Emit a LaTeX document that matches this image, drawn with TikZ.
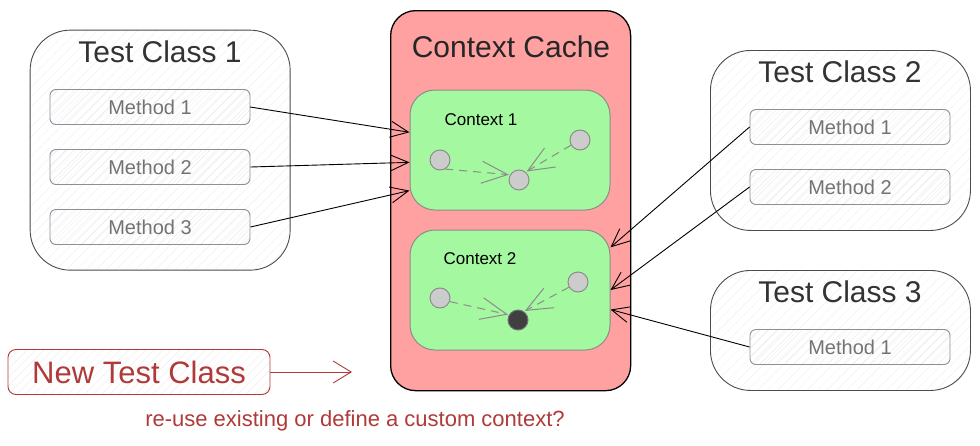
\documentclass[tikz,border=0pt]{standalone}
\usepackage{fontspec}
\setmainfont{Liberation Sans}
\usetikzlibrary{arrows.meta,positioning,patterns.meta}
\definecolor{cacheRed} {RGB}{255,161,161}
\definecolor{ctxGreen} {RGB}{164,248,160}
\definecolor{newRed}   {RGB}{176,58, 58}
\definecolor{boxGray}  {RGB}{249,249,250}
\definecolor{methGray} {RGB}{236,237,240}
\definecolor{lineGray} {RGB}{139,143,153}
\definecolor{dotGray}  {RGB}{204,204,204}

\begin{document}
\begin{tikzpicture}[x=1pt,y=-1pt,
    klass/.style={draw=black!70,line width=0.9pt,rounded corners=40pt,fill=boxGray,
      pattern={Lines[angle=45,distance=7pt,line width=0.3pt]},pattern color=black!7,
      inner sep=0pt,anchor=north west},
    klasstitle/.style={text=black!80,font=\fontsize{30}{32}\selectfont},
    method/.style={draw=lineGray,line width=0.9pt,rounded corners=6pt,fill=methGray,
      pattern={Lines[angle=45,distance=6pt,line width=0.3pt]},pattern color=black!10,
      minimum width=200pt,minimum height=35pt,inner sep=0pt,
      text=black!55,font=\fontsize{20}{22}\selectfont},
    ctxbox/.style={draw=black!45,line width=1pt,rounded corners=25pt,fill=ctxGreen,
      minimum width=200pt,minimum height=120pt,inner sep=0pt},
    ctxtitle/.style={text=black,font=\fontsize{17}{19}\selectfont},
    dot/.style={circle,draw=black!45,line width=1pt,fill=dotGray,minimum size=20pt,inner sep=0pt},
    dasharrow/.style={draw=black!45,line width=1pt,dash pattern=on 8pt off 6pt,
      -{Straight Barb[length=26pt,width=22pt]},shorten >=1pt},
    link/.style={draw=black,line width=0.9pt,-{Straight Barb[length=18pt,width=16pt]}}]
  \fill[white] (0,0) rectangle (980,445);
  \useasboundingbox (0,0) rectangle (980,445);

  % Test Class 1
  \node[klass,minimum width=260pt,minimum height=240pt] (tc1) at (30,30) {};
  \node[klasstitle] (tc1t) at (160,52) {Test Class 1};
  \node[method] (tc1m1) at (150,107) {Method 1};
  \node[method] (tc1m2) at (150,167) {Method 2};
  \node[method] (tc1m3) at (150,227) {Method 3};

  % Context Cache
  \node[draw=black,line width=1.3pt,fill=cacheRed,rounded corners=25pt,inner sep=0pt,
        minimum width=240pt,minimum height=380pt,anchor=north west] (cache) at (390,10) {};
  \node[klasstitle,text=black!85] (cachet) at (511,47) {Context Cache};

  % Context 1
  \node[ctxbox] (ctx1) at (510,150) {};
  \node[ctxtitle] (ctx1t) at (481,120) {Context 1};
  \node[dot] (c1a) at (440,160) {};
  \node[dot] (c1b) at (519,180) {};
  \node[dot] (c1c) at (580,140) {};
  \draw[dasharrow] (c1a.-60) -- (c1b.150);
  \draw[dasharrow] (c1c.-150) -- (c1b.50);

  % Context 2
  \node[ctxbox] (ctx2) at (510,290) {};
  \node[ctxtitle] (ctx2t) at (480,259) {Context 2};
  \node[dot] (c2a) at (440,298) {};
  \node[dot,fill=black!75,draw=black!55] (c2b) at (518,320) {};
  \node[dot] (c2c) at (578,282) {};
  \draw[dasharrow] (c2a.-20) -- (c2b.150);
  \draw[dasharrow] (c2c.-150) -- (c2b.55);

  % Test Class 2
  \node[klass,minimum width=260pt,minimum height=180pt] (tc2) at (710,50) {};
  \node[klasstitle] (tc2t) at (840,72) {Test Class 2};
  \node[method] (tc2m1) at (850,127) {Method 1};
  \node[method] (tc2m2) at (850,187) {Method 2};

  % Test Class 3
  \node[klass,minimum width=260pt,minimum height=120pt] (tc3) at (710,270) {};
  \node[klasstitle] (tc3t) at (840,292) {Test Class 3};
  \node[method] (tc3m1) at (850,347) {Method 1};

  % Pfeile zum Cache
  \draw[link] (tc1m1.east) -- (ctx1.170);
  \draw[link] (tc1m2.east) -- (ctx1.187);
  \draw[link] (tc1m3.east) -- (ctx1.202);
  \draw[link] (tc2m1.west) -- (ctx2.23);
  \draw[link] (tc2m2.west) -- (ctx2.0);
  \draw[link] (tc3m1.west) -- (ctx2.349);

  % Neue Testklasse
  \node[draw=newRed,line width=0.9pt,rounded corners=8pt,fill=white,
        pattern={Lines[angle=45,distance=6pt,line width=0.3pt]},pattern color=black!8,
        minimum width=262pt,minimum height=45pt,inner sep=0pt,
        text=newRed,font=\fontsize{31}{33}\selectfont] (ntc) at (139,372) {New Test Class};
  \coordinate (ntcend) at (352,372);
  \draw[draw=newRed,line width=0.9pt,-{Straight Barb[length=18pt,width=22pt]}] (ntc.east) -- (ntcend);
  \node[text=newRed,font=\fontsize{22}{24}\selectfont] (quest) at (355,421)
    {re-use existing or define a custom context?};
\end{tikzpicture}
\end{document}
